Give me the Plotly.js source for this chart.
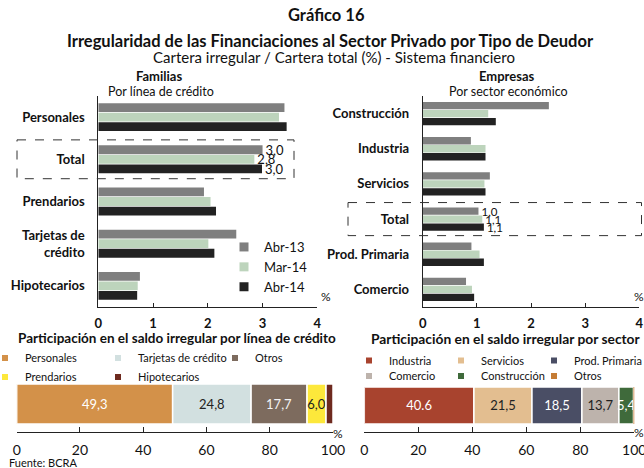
<!DOCTYPE html>
<html><head><meta charset="utf-8">
<script src="https://cdn.plot.ly/plotly-3.0.1.min.js"></script>
<style>html,body{margin:0;padding:0;background:#fff;} #chart{width:644px;height:468px;}</style>
</head><body><div id="chart"></div>
<script>
// ---------- DATA ----------
const familiasCats = ['Personales', 'Total', 'Prendarios', 'Tarjetas de<br>crédito', 'Hipotecarios'];
const famAbr13 = [3.40, 3.00, 1.93, 2.52, 0.76];
const famMar14 = [3.30, 2.85, 2.05, 2.01, 0.72];
const famAbr14 = [3.44, 2.99, 2.15, 2.12, 0.71];
const famLblAbr13 = ['', '3,0', '', '', ''];
const famLblMar14 = ['', '2,8', '', '', ''];
const famLblAbr14 = ['', '3,0', '', '', ''];

const empresasCats = ['Construcción', 'Industria', 'Servicios', 'Total', 'Prod. Primaria', 'Comercio'];
const empAbr13 = [2.33, 0.89, 1.24, 1.03, 0.90, 0.80];
const empMar14 = [1.21, 1.16, 1.14, 1.10, 1.05, 0.91];
const empAbr14 = [1.35, 1.16, 1.16, 1.13, 1.13, 0.95];
const empLblAbr13 = ['', '', '', '1,0', '', ''];
const empLblMar14 = ['', '', '', '1,1', '', ''];
const empLblAbr14 = ['', '', '', '1,1', '', ''];

const seriesNames = ['Abr-13', 'Mar-14', 'Abr-14'];

const lineaNames = ['Personales', 'Tarjetas de crédito', 'Otros', 'Prendarios', 'Hipotecarios'];
const lineaShares = [49.3, 24.8, 17.7, 6.0, 2.2];
const lineaLabels = ['49,3', '24,8', '17,7', '6,0', ''];

const sectorNames = ['Industria', 'Servicios', 'Prod. Primaria', 'Comercio', 'Construcción', 'Otros'];
const sectorShares = [40.6, 21.5, 18.5, 13.7, 5.4, 0.5];
const sectorLabels = ['40.6', '21,5', '18,5', '13,7', '5,4', ''];

const pctTicks = [0, 1, 2, 3, 4];
const shareTicks = [0, 20, 40, 60, 80, 100];

// ---------- STYLE ----------
const FONT = 'Lato, "Open Sans", sans-serif';
const seriesColors = ['#7f7f7f', '#bdd4bc', '#222222'];
const lineaColors = ['#d39149', '#d2e0e0', '#7d6b5e', '#fde83b', '#6e2a1f'];
const lineaText = ['#ffffff', '#222222', '#f2f2f2', '#222222', '#ffffff'];
const sectorColors = ['#a8432e', '#e3be90', '#4a4e65', '#bdb3ac', '#3f6a3b', '#c57c35'];
const sectorText = ['#ffffff', '#222222', '#ffffff', '#222222', '#ffffff', '#222222'];
const AX = '#222222';
// legend entry positions (text start x, row centre y), in page pixels
const lineaLegendPos = [[24, 358], [138, 358], [255, 358], [24, 377], [138, 377]];
const sectorLegendPos = [[389, 360.5], [481, 360.5], [574, 360.5], [389, 376], [481, 376], [574, 376]];

const W = 644, H = 468;
const px = v => v / W;
const py = v => 1 - v / H;

const traces = [];
const famVals = [famAbr13, famMar14, famAbr14];
const famLbls = [famLblAbr13, famLblMar14, famLblAbr14];
const empVals = [empAbr13, empMar14, empAbr14];
const empLbls = [empLblAbr13, empLblMar14, empLblAbr14];

for (let i = 0; i < 3; i++) {
  traces.push({
    type: 'bar', orientation: 'h', x: famVals[i], y: familiasCats, name: seriesNames[i],
    xaxis: 'x', yaxis: 'y', marker: {color: seriesColors[i]}, showlegend: false,
    text: famLbls[i], textposition: 'outside', cliponaxis: false, constraintext: 'none',
    textfont: {size: 13, color: '#111', family: FONT}, hoverinfo: 'x+name'
  });
}
for (let i = 0; i < 3; i++) {
  traces.push({
    type: 'bar', orientation: 'h', x: empVals[i], y: empresasCats, name: seriesNames[i],
    xaxis: 'x2', yaxis: 'y2', marker: {color: seriesColors[i]}, showlegend: false,
    text: empLbls[i], textposition: 'outside', cliponaxis: false, constraintext: 'none',
    textfont: {size: 11.5, color: '#111', family: FONT}, hoverinfo: 'x+name'
  });
}
for (let i = 0; i < 3; i++) {
  traces.push({
    type: 'scatter', mode: 'markers', x: [null], y: [null], name: seriesNames[i],
    xaxis: 'x', yaxis: 'y', legend: 'legend',
    marker: {symbol: 'square', size: 9, color: seriesColors[i]}, hoverinfo: 'skip'
  });
}

const legends = {};
let legendN = 2;
function addLegend(pos) {
  const key = 'legend' + legendN++;
  legends[key] = {x: Math.max(0, px(pos[0] - 25)), y: py(pos[1]), xanchor: 'left', yanchor: 'middle',
    orientation: 'h', indentation: -15, bgcolor: 'rgba(0,0,0,0)',
    font: {size: 11, color: '#111', family: FONT}};
  return key;
}

let cum = 0;
for (let i = 0; i < lineaNames.length; i++) {
  traces.push({
    type: 'bar', orientation: 'h', x: [lineaShares[i]], y: [0], base: [cum],
    name: lineaNames[i], xaxis: 'x3', yaxis: 'y3', offsetgroup: 'L', width: 0.8,
    marker: {color: lineaColors[i], line: {color: '#ffffff', width: 1.5}},
    text: [lineaLabels[i]], textposition: 'inside', insidetextanchor: 'middle',
    textangle: 0, constraintext: 'none',
    textfont: {size: 13, color: lineaText[i], family: FONT}, showlegend: false, hoverinfo: 'x+name'
  });
  cum += lineaShares[i];
  traces.push({
    type: 'scatter', mode: 'markers', x: [null], y: [null], name: lineaNames[i],
    xaxis: 'x3', yaxis: 'y3', legend: addLegend(lineaLegendPos[i]),
    marker: {symbol: 'square', size: 6, color: lineaColors[i]}, hoverinfo: 'skip'
  });
}
cum = 0;
for (let i = 0; i < sectorNames.length; i++) {
  traces.push({
    type: 'bar', orientation: 'h', x: [sectorShares[i]], y: [0], base: [cum],
    name: sectorNames[i], xaxis: 'x4', yaxis: 'y4', offsetgroup: 'S', width: 0.8,
    marker: {color: sectorColors[i], line: {color: '#ffffff', width: i === sectorNames.length - 1 ? 0 : 1.5}},
    text: [sectorLabels[i]], textposition: 'inside', insidetextanchor: 'middle',
    textangle: 0, constraintext: 'none',
    textfont: {size: 13, color: sectorText[i], family: FONT}, showlegend: false, hoverinfo: 'x+name'
  });
  cum += sectorShares[i];
  traces.push({
    type: 'scatter', mode: 'markers', x: [null], y: [null], name: sectorNames[i],
    xaxis: 'x4', yaxis: 'y4', legend: addLegend(sectorLegendPos[i]),
    marker: {symbol: 'square', size: 6, color: sectorColors[i]}, hoverinfo: 'skip'
  });
}

const catAxis = {
  type: 'category', autorange: 'reversed', showline: true, linecolor: AX, linewidth: 1,
  showgrid: false, zeroline: false, ticks: '', ticklabelstandoff: 10,
  tickfont: {size: 13, color: '#111', family: FONT, weight: 'bold'}
};
const pctAxis = {
  range: [0, 4], tickvals: pctTicks, ticks: 'inside', ticklen: 4, tickcolor: AX,
  showline: true, linecolor: AX, linewidth: 1, showgrid: false, zeroline: false,
  ticklabelstandoff: 4, ticklabeloverflow: 'allow',
  tickfont: {size: 13, color: '#111', family: FONT, weight: 'bold'}
};
const shareAxis = {
  range: [0, 100], tickvals: shareTicks, ticks: 'inside', ticklen: 5, tickcolor: AX,
  showline: true, linecolor: AX, linewidth: 1, showgrid: false, zeroline: false,
  ticklabelstandoff: 5, ticklabeloverflow: 'allow', tickfont: {size: 14, color: '#111', family: FONT}
};
const hiddenY = {showline: false, showgrid: false, zeroline: false, showticklabels: false, ticks: '', fixedrange: true};

function ann(text, x, y, size, opts) {
  return Object.assign({text: text, x: px(x), y: py(y), xref: 'paper', yref: 'paper',
    showarrow: false, font: {size: size, color: '#111', family: FONT}, xanchor: 'center', yanchor: 'middle'}, opts || {});
}

const layout = Object.assign({
  width: W, height: H,
  margin: {l: 0, r: 0, t: 0, b: 0, autoexpand: false},
  paper_bgcolor: '#ffffff', plot_bgcolor: 'rgba(0,0,0,0)',
  font: {family: FONT, color: '#111'},
  barmode: 'group', bargap: 0.32, bargroupgap: 0.08,
  showlegend: true,
  xaxis: Object.assign({}, pctAxis, {domain: [px(98.3), px(317.3)], anchor: 'y'}),
  yaxis: Object.assign({}, catAxis, {domain: [py(307), py(96)], anchor: 'x'}),
  xaxis2: Object.assign({}, pctAxis, {domain: [px(422.7), px(639.3)], anchor: 'y2'}),
  yaxis2: Object.assign({}, catAxis, {domain: [py(307), py(96)], anchor: 'x2'}),
  xaxis3: Object.assign({}, shareAxis, {domain: [px(16.7), px(333)], anchor: 'y3'}),
  yaxis3: Object.assign({}, hiddenY, {domain: [py(432), py(380)], range: [-0.56, 0.48], anchor: 'x3'}),
  xaxis4: Object.assign({}, shareAxis, {domain: [px(364.3), px(634.3)], anchor: 'y4'}),
  yaxis4: Object.assign({}, hiddenY, {domain: [py(432), py(380)], range: [-0.573, 0.551], anchor: 'x4'}),
  legend: {x: px(232), y: py(232), xanchor: 'left', yanchor: 'top', orientation: 'v', indentation: -8,
    bgcolor: 'rgba(0,0,0,0)', font: {size: 13, color: '#111', family: FONT}, traceorder: 'normal'},
  shapes: [
    {type: 'rect', xref: 'paper', yref: 'y', x0: px(17), x1: px(294), y0: 0.54, y1: 1.46,
      line: {color: '#333', width: 1, dash: 'dash'}, fillcolor: 'rgba(0,0,0,0)'},
    {type: 'rect', xref: 'paper', yref: 'y2', x0: px(348), x1: px(641.5), y0: 2.53, y1: 3.47,
      line: {color: '#333', width: 1, dash: 'dash'}, fillcolor: 'rgba(0,0,0,0)'}
  ],
  annotations: [
    ann('<b>Gráfico 16</b>', 326, 15, 16.5),
    ann('<b>Irregularidad de las Financiaciones al Sector Privado por Tipo de Deudor</b>', 330, 41, 16.5),
    ann('Cartera irregular / Cartera total (%) - Sistema financiero', 334, 57, 15),
    ann('<b>Familias</b>', 159, 76, 13),
    ann('Por línea de crédito', 161, 91.5, 12.5),
    ann('<b>Empresas</b>', 507.5, 76, 13),
    ann('Por sector económico', 508, 91.5, 12.5),
    ann('%', 326, 296.5, 12),
    ann('%', 639, 296, 12),
    ann('%', 338, 433, 12),
    ann('%', 639, 432, 12),
    ann('<b>Participación en el saldo irregular por línea de crédito</b>', 16, 338, 13.5, {xanchor: 'left'}),
    ann('<b>Participación en el saldo irregular por sector</b>', 369, 338, 13.8, {xanchor: 'left'}),
    ann('Fuente: BCRA', 7, 462, 11, {xanchor: 'left'})
  ]
}, legends);

Plotly.newPlot('chart', traces, layout, {displayModeBar: false, staticPlot: true});
</script>
</body></html>
